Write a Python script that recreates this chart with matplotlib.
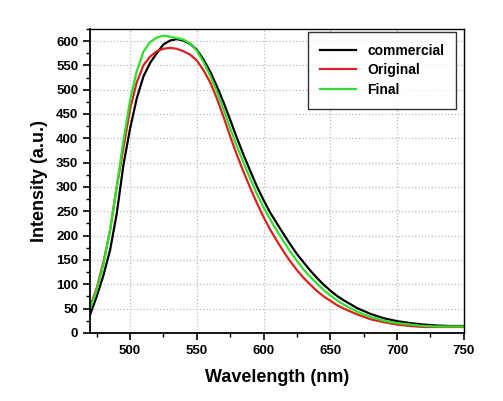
import matplotlib
matplotlib.use("Agg")
import matplotlib.pyplot as plt
from matplotlib.ticker import MultipleLocator

plt.rcParams['font.family'] = ['Liberation Sans', 'DejaVu Sans']
plt.rcParams['font.weight'] = 'bold'

# emission spectra (nm, a.u.)
wavelength = [470, 475, 480, 485, 490, 495, 500, 505, 510, 515, 520, 525, 530,
              535, 540, 545, 550, 555, 560, 565, 570, 575, 580, 585, 590, 595,
              600, 605, 610, 615, 620, 625, 630, 635, 640, 645, 650, 655, 660,
              665, 670, 675, 680, 690, 700, 710, 720, 730, 740, 750]

commercial = [37, 75, 118, 170, 245, 345, 420, 482, 527, 555, 575, 593, 601,
              604, 601, 594, 582, 562, 537, 507, 474, 438, 401, 366, 333, 301,
              273, 247, 225, 203, 182, 162, 145, 128, 113, 99, 87, 76, 67,
              59, 51, 45, 39, 30, 24, 20, 17, 15, 14, 14]

original = [53, 92, 145, 210, 300, 380, 460, 515, 550, 568, 579, 584, 586,
            584, 579, 572, 560, 540, 515, 482, 444, 404, 366, 331, 298, 267,
            238, 212, 189, 167, 147, 129, 113, 99, 86, 75, 66, 57, 50,
            44, 38, 33, 28, 22, 17, 14, 12, 12, 12, 12]

final = [49, 88, 140, 212, 300, 395, 478, 538, 578, 598, 607, 611, 609,
         606, 603, 595, 580, 557, 529, 496, 460, 421, 384, 350, 317, 286,
         258, 233, 210, 188, 167, 148, 130, 115, 101, 88, 77, 67, 58,
         51, 44, 38, 33, 25, 20, 17, 14, 13, 13, 13]

fig = plt.figure(figsize=(5.03, 4.01), dpi=100)
ax = fig.add_axes([0.179, 0.170, 0.743, 0.758])

ax.plot(wavelength, commercial, color='black', lw=1.6, label='commercial')
ax.plot(wavelength, original, color='#dd2020', lw=1.6, label='Original')
ax.plot(wavelength, final, color='#2ee02e', lw=1.6, label='Final')

ax.set_xlim(470, 750)
ax.set_ylim(0, 625)
ax.xaxis.set_major_locator(MultipleLocator(50))
ax.xaxis.set_minor_locator(MultipleLocator(25))
ax.yaxis.set_major_locator(MultipleLocator(50))
ax.yaxis.set_minor_locator(MultipleLocator(25))
ax.tick_params(which='major', direction='out', length=5, width=1.2,
               labelsize=9.5, top=False, right=False)
ax.tick_params(which='minor', direction='out', length=3, width=1,
               top=False, right=False)
for lab in ax.get_xticklabels() + ax.get_yticklabels():
    lab.set_fontweight('bold')

ax.grid(True, which='major', color='#bbbbbb', linestyle=':', linewidth=0.9)
for side in ['left', 'bottom']:
    ax.spines[side].set_linewidth(1.3)
for side in ['top', 'right']:
    ax.spines[side].set_linewidth(1.0)

ax.set_xlabel('Wavelength (nm)', fontsize=13, fontweight='bold', labelpad=9)
ax.set_ylabel('Intensity (a.u.)', fontsize=13, fontweight='bold', labelpad=6)

leg = ax.legend(loc='upper right', bbox_to_anchor=(0.980, 0.990),
                fontsize=10, handlelength=2.6, handletextpad=0.8,
                frameon=True, fancybox=False, edgecolor='black',
                borderaxespad=0, labelspacing=0.4, borderpad=0.85)
leg.get_frame().set_linewidth(1.0)
for t in leg.get_texts():
    t.set_fontweight('bold')

fig.savefig('out.png', dpi=100)
